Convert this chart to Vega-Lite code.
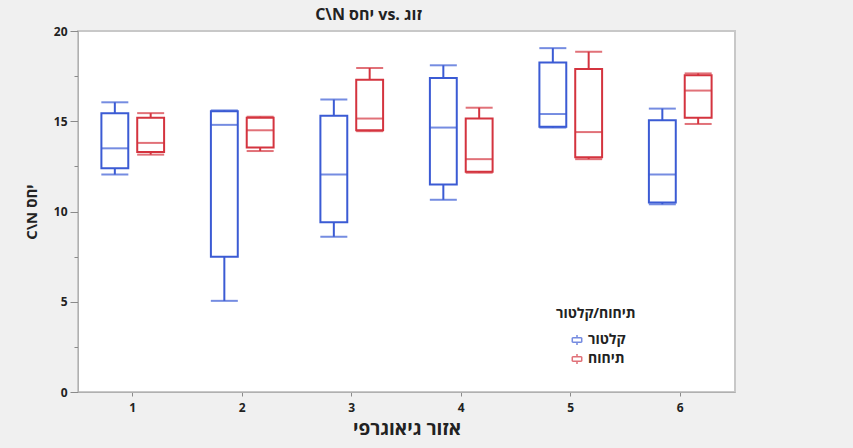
{
  "$schema": "https://vega.github.io/schema/vega-lite/v6.json",
  "width": 657,
  "height": 361,
  "autosize": "none",
  "padding": {"left": 78, "top": 31, "right": 118, "bottom": 56},
  "background": "#f0f0f0",
  "view": {"fill": "white", "stroke": "#c8c8c8", "strokeWidth": 2},
  "title": {
    "text": "\u202aC\\N יחס vs. זוג\u202c",
    "anchor": "middle",
    "dx": -38,
    "offset": 2,
    "font": "Open Sans, DejaVu Sans",
    "fontSize": 16,
    "fontWeight": "bold",
    "color": "#222222"
  },
  "config": {
    "font": "Open Sans, DejaVu Sans",
    "axis": {
      "labelFont": "Open Sans, DejaVu Sans",
      "titleFont": "Open Sans, DejaVu Sans",
      "labelFontWeight": "bold",
      "titleFontWeight": "bold",
      "labelColor": "#222222",
      "titleColor": "#222222",
      "domainColor": "#b0b0b0",
      "tickColor": "#8a8a8a",
      "grid": false
    },
    "legend": {
      "labelFont": "Open Sans, DejaVu Sans",
      "titleFont": "Open Sans, DejaVu Sans"
    }
  },
  "data": {
    "values": [
      {"region": 1, "method": "קלטור", "min": 12.05, "q1": 12.4, "median": 13.5, "q3": 15.45, "max": 16.05},
      {"region": 1, "method": "תיחוח", "min": 13.15, "q1": 13.3, "median": 13.8, "q3": 15.2, "max": 15.45},
      {"region": 2, "method": "קלטור", "min": 5.05, "q1": 7.5, "median": 14.8, "q3": 15.55, "max": 15.6},
      {"region": 2, "method": "תיחוח", "min": 13.35, "q1": 13.55, "median": 14.5, "q3": 15.2, "max": 15.25},
      {"region": 3, "method": "קלטור", "min": 8.6, "q1": 9.4, "median": 12.05, "q3": 15.3, "max": 16.2},
      {"region": 3, "method": "תיחוח", "min": 14.45, "q1": 14.5, "median": 15.15, "q3": 17.3, "max": 17.95},
      {"region": 4, "method": "קלטור", "min": 10.65, "q1": 11.5, "median": 14.65, "q3": 17.4, "max": 18.1},
      {"region": 4, "method": "תיחוח", "min": 12.15, "q1": 12.2, "median": 12.9, "q3": 15.15, "max": 15.75},
      {"region": 5, "method": "קלטור", "min": 14.65, "q1": 14.7, "median": 15.4, "q3": 18.25, "max": 19.05},
      {"region": 5, "method": "תיחוח", "min": 12.9, "q1": 13.0, "median": 14.4, "q3": 17.9, "max": 18.85},
      {"region": 6, "method": "קלטור", "min": 10.4, "q1": 10.5, "median": 12.05, "q3": 15.05, "max": 15.7},
      {"region": 6, "method": "תיחוח", "min": 14.85, "q1": 15.2, "median": 16.7, "q3": 17.55, "max": 17.65}
    ]
  },
  "encoding": {
    "x": {
      "field": "region",
      "type": "ordinal",
      "scale": {"paddingInner": 0, "paddingOuter": 0},
      "axis": {
        "title": "אזור גיאוגרפי",
        "labelAngle": 0,
        "labelFontSize": 12,
        "labelPadding": 6,
        "tickSize": 4,
        "titleFontSize": 19,
        "titlePadding": 6
      }
    },
    "xOffset": {
      "field": "method",
      "type": "nominal",
      "scale": {"domain": ["קלטור", "תיחוח"], "paddingInner": 0.25, "paddingOuter": 0.653}
    }
  },
  "layer": [
    {
      "mark": {"type": "bar", "filled": false, "strokeWidth": 2},
      "encoding": {
        "y": {
          "field": "q1",
          "type": "quantitative",
          "scale": {"domain": [0, 20], "nice": false, "zero": false},
          "axis": {
            "title": "\u202aC\\N יחס\u202c",
            "values": [0, 2.5, 5, 7.5, 10, 12.5, 15, 17.5, 20],
            "labelExpr": "datum.value % 5 === 0 ? datum.label : ''",
            "tickSize": {"condition": {"test": "datum.value % 5 === 0", "value": 8}, "value": 4},
            "labelFontSize": 12,
            "labelPadding": 3,
            "titleFontSize": 15,
            "titlePadding": 14
          }
        },
        "y2": {"field": "q3"},
        "color": {
          "field": "method",
          "type": "nominal",
          "scale": {"domain": ["קלטור", "תיחוח"], "range": ["#3b5bd4", "#d4343f"]},
          "legend": {
            "title": "תיחוח/קלטור",
            "orient": "none",
            "legendX": 478,
            "legendY": 276,
            "titleFontSize": 14,
            "titleFontWeight": "bold",
            "titleColor": "#222222",
            "labelFontSize": 14,
            "labelFontWeight": "bold",
            "labelColor": "#222222",
            "symbolType": "M-0.9,-0.45H0.9 M0.9,-0.45V0.45 M0.9,0.45H-0.9 M-0.9,0.45V-0.45 M0,-0.45V-0.95 M0,0.45V0.95",
            "symbolSize": 110,
            "symbolStrokeWidth": 1.5,
            "symbolOpacity": 0.7,
            "symbolFillColor": "white",
            "symbolOffset": 14,
            "rowPadding": 3,
            "titlePadding": 12
          }
        }
      }
    },
    {
      "mark": {"type": "rule", "strokeWidth": 2},
      "encoding": {
        "y": {"field": "max", "type": "quantitative"},
        "y2": {"field": "q3"},
        "color": {"field": "method", "type": "nominal", "legend": null}
      }
    },
    {
      "mark": {"type": "rule", "strokeWidth": 2},
      "encoding": {
        "y": {"field": "min", "type": "quantitative"},
        "y2": {"field": "q1"},
        "color": {"field": "method", "type": "nominal", "legend": null}
      }
    },
    {
      "mark": {"type": "tick", "size": 27, "thickness": 2},
      "encoding": {
        "y": {"field": "median", "type": "quantitative"},
        "color": {"field": "method", "type": "nominal", "legend": null}
      }
    },
    {
      "mark": {"type": "tick", "size": 27, "thickness": 2},
      "encoding": {
        "y": {"field": "max", "type": "quantitative"},
        "color": {"field": "method", "type": "nominal", "legend": null}
      }
    },
    {
      "mark": {"type": "tick", "size": 27, "thickness": 2},
      "encoding": {
        "y": {"field": "min", "type": "quantitative"},
        "color": {"field": "method", "type": "nominal", "legend": null}
      }
    }
  ]
}
